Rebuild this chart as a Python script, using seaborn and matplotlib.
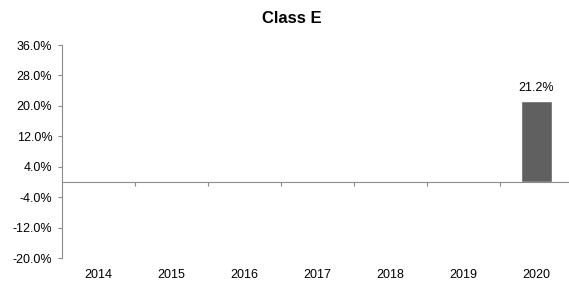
import numpy as np
import pandas as pd
import matplotlib
matplotlib.use("Agg")
import matplotlib.pyplot as plt
from matplotlib.ticker import FuncFormatter
import seaborn as sns

years = ["2014", "2015", "2016", "2017", "2018", "2019", "2020"]
values = [np.nan, np.nan, np.nan, np.nan, np.nan, np.nan, 21.2]
y_ticks = [-20, -12, -4, 4, 12, 20, 28, 36]

sns.set_style("white")
plt.rcParams["font.family"] = ["Liberation Sans", "DejaVu Sans"]
plt.rcParams["text.color"] = "black"
plt.rcParams["xtick.color"] = "black"
plt.rcParams["ytick.color"] = "black"

# missing years are drawn as empty (zero-height) bars
df = pd.DataFrame({"year": years, "value": values}).fillna(0)

fig = plt.figure(figsize=(5.69, 2.84), dpi=100)
ax = fig.add_axes([0.109, 0.0915, 0.898, 0.75])

sns.barplot(data=df, x="year", y="value", order=years, color="#606060",
            saturation=1, width=0.42, errorbar=None, ax=ax)

ax.set_ylim(-20, 36)
ax.set_xlim(-0.5, len(years) - 0.5)
ax.set_yticks(y_ticks)
ax.yaxis.set_major_formatter(FuncFormatter(lambda v, p: f"{v:.1f}%"))
ax.tick_params(axis="y", left=True, length=3, width=0.8, color="#8c8c8c",
               labelcolor="black", labelsize=9, pad=4)
ax.tick_params(axis="x", length=0, labelcolor="black", labelsize=9, pad=8)
ax.set_xlabel("")
ax.set_ylabel("")

for s in ["top", "right", "bottom"]:
    ax.spines[s].set_visible(False)
ax.spines["left"].set_color("#8c8c8c")
ax.spines["left"].set_linewidth(0.8)

# zero line with category separators
ax.axhline(0, color="#8c8c8c", lw=0.8, zorder=1)
zero_loc = (0 - (-20)) / (36 - (-20))
sec = ax.secondary_xaxis(zero_loc)
sec.set_xticks([i + 0.5 for i in range(len(years) - 1)])
sec.set_xticklabels([])
sec.tick_params(bottom=True, length=3, width=0.8, color="#8c8c8c", direction="out")
sec.spines["bottom"].set_visible(False)

labels = ["" if np.isnan(v) else f"{v:.1f}%" for v in values]
ax.bar_label(ax.containers[0], labels=labels, padding=5, fontsize=9, color="black")

ax.set_title("Class E", fontsize=12, fontweight="bold", pad=16, color="black",
             x=0.45)

fig.savefig("out.png", dpi=100)
